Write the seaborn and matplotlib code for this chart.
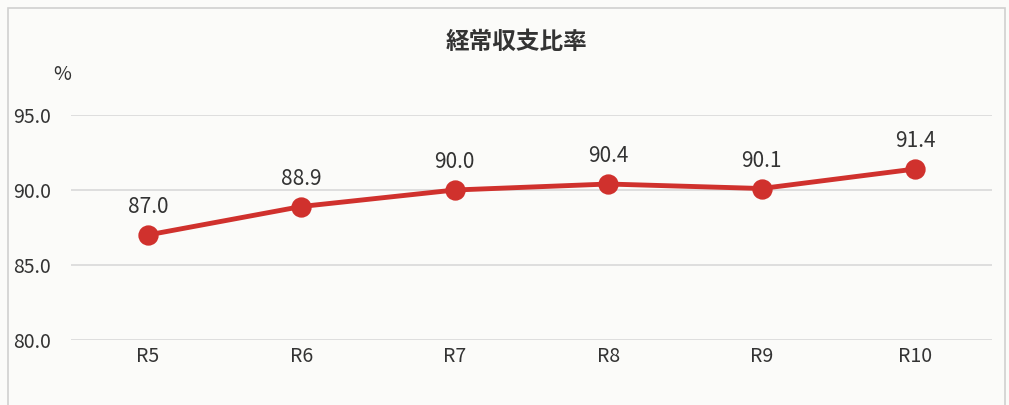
import matplotlib
matplotlib.use("Agg")
import matplotlib.pyplot as plt
from matplotlib.patches import Rectangle
import seaborn as sns
import pandas as pd

# chart data
years = ["R5", "R6", "R7", "R8", "R9", "R10"]
ratios = [87.0, 88.9, 90.0, 90.4, 90.1, 91.4]
y_ticks = [80.0, 85.0, 90.0, 95.0]

sns.set_style("white")
plt.rcParams['font.family'] = ['Noto Sans CJK JP', 'DejaVu Sans']

df = pd.DataFrame({"year": years, "ratio": ratios})

fig = plt.figure(figsize=(10.09, 4.05), dpi=100)
fig.patch.set_facecolor("#fbfbf9")
ax = fig.add_axes([0.0704, 0.1605, 0.9126, 0.5555])
ax.set_facecolor("#fbfbf9")

# outer chart border
fig.add_artist(Rectangle((0.008, -0.01), 0.988, 0.99, transform=fig.transFigure,
                         fill=False, edgecolor="#d0d0d0", linewidth=1.2))

sns.pointplot(data=df, x="year", y="ratio", color="#d0312d", ax=ax,
              markersize=12, linewidth=3.5, clip_on=False)

ax.set_ylim(80, 95)
ax.set_xlim(-0.5, 5.5)
ax.set_yticks(y_ticks)
ax.set_yticklabels([f"{v:.1f}" for v in y_ticks], fontsize=14, color="#333333")
ax.tick_params(axis="x", labelsize=14, colors="#333333", length=0, pad=4)
ax.tick_params(axis="y", length=0, pad=42)
for lbl in ax.get_yticklabels():
    lbl.set_horizontalalignment("left")
ax.yaxis.grid(True, color="#d9d9d9", linewidth=1.2)
ax.set_axisbelow(True)
for s in ax.spines.values():
    s.set_visible(False)
ax.set_xlabel("")
ax.set_ylabel("")

# value labels
for i, v in enumerate(ratios):
    ax.annotate(f"{v:.1f}", (i, v), xytext=(0, 12), textcoords="offset points",
                ha="center", va="bottom", fontsize=15, color="#333333")

fig.text(0.062, 0.815, "%", fontsize=14, color="#333333", ha="center", va="center")
fig.text(0.512, 0.897, "経常収支比率", fontsize=17, fontweight="bold",
         color="#333333", ha="center", va="center")

fig.savefig("out.png", dpi=100, facecolor=fig.get_facecolor())
